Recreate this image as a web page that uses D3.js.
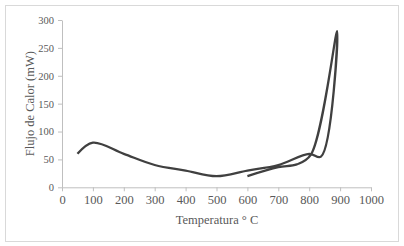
<!DOCTYPE html>
<html>
<head>
<meta charset="utf-8">
<script src="https://cdn.jsdelivr.net/npm/d3@7"></script>
<style>
  body { margin: 0; background: #fff; }
  svg text { font-family: "Liberation Serif", "DejaVu Serif", serif; fill: #595959; }
  .axis path, .axis line { stroke: #bfbfbf; }
  .x-axis text { font-size: 12.5px; }
  .y-axis text { font-size: 10.5px; }
  .label { font-size: 12.5px; }
</style>
</head>
<body>
<svg width="404" height="246"></svg>
<script>
// temperature (°C) and heat flow (mW), in the order they are traced
const temps = [50, 100, 200, 300, 400, 500, 600, 700, 800, 838, 890, 805, 760, 700, 600];
const flux  = [60, 80, 60, 40, 30, 20, 30, 40, 60, 55, 280, 58, 41, 36, 20];
const xTicks = [0, 100, 200, 300, 400, 500, 600, 700, 800, 900, 1000];
const yTicks = [0, 50, 100, 150, 200, 250, 300];

const w = 404, h = 246;
const mLeft = 62, mRight = 371, mTop = 20, mBottom = 187.3;

const scaleX = d3.scaleLinear().domain([0, 1000]).range([mLeft, mRight]);
const scaleY = d3.scaleLinear().domain([0, 300]).range([mBottom, mTop]);

const svg = d3.select("svg");

// outer frame
svg.append("rect")
    .attr("x", 5.5).attr("y", 5.5)
    .attr("width", 393).attr("height", 236)
    .attr("fill", "#fff").attr("stroke", "#d9d9d9");

const axisX = d3.axisBottom(scaleX).tickValues(xTicks).tickFormat(d3.format("d"))
    .tickSize(4).tickSizeOuter(0).tickPadding(4);
const axisY = d3.axisLeft(scaleY).tickValues(yTicks).tickFormat(d3.format("d"))
    .tickSize(4).tickSizeOuter(0).tickPadding(4);

svg.append("g").attr("class", "axis x-axis")
    .attr("transform", `translate(0,${mBottom})`)
    .call(axisX)
    .call(g => g.selectAll("text").attr("fill", "#595959"));

svg.append("g").attr("class", "axis y-axis")
    .attr("transform", `translate(${mLeft},0)`)
    .call(axisY)
    .call(g => g.selectAll("text").attr("fill", "#595959"));

// curve
const pts = temps.map((t, i) => [t, flux[i]]);
const line = d3.line()
    .x(d => scaleX(d[0]))
    .y(d => scaleY(d[1]))
    .curve(d3.curveCatmullRom.alpha(0.5));

svg.append("path")
    .datum(pts)
    .attr("d", line)
    .attr("fill", "none")
    .attr("stroke", "#404040")
    .attr("stroke-width", 2.3)
    .attr("stroke-linejoin", "round");

// labels
svg.append("text").attr("class", "label")
    .attr("text-anchor", "middle")
    .attr("x", 217).attr("y", 224)
    .text("Temperatura ° C");

svg.append("text").attr("class", "label")
    .attr("text-anchor", "middle")
    .attr("transform", `translate(34,${(mTop + mBottom) / 2}) rotate(-90)`)
    .text("Flujo de Calor (mW)");
</script>
</body>
</html>
